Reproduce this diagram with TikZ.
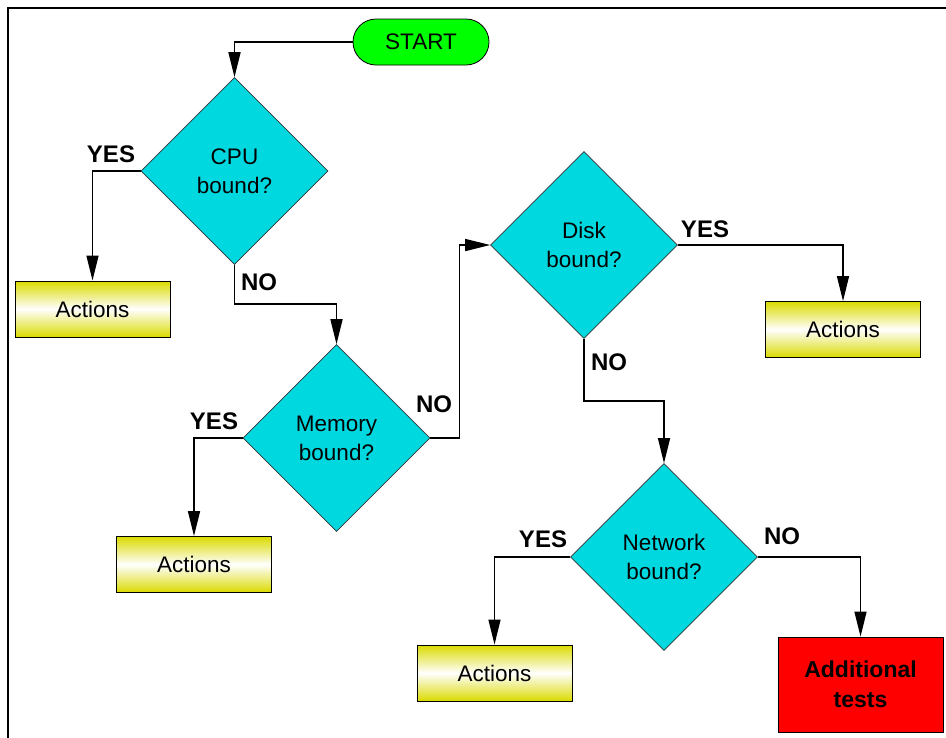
\documentclass[tikz,border=0pt]{standalone}
\usepackage{fontspec}
\setmainfont{Liberation Sans}
\usetikzlibrary{shapes.geometric,arrows.meta}
\definecolor{decision}{RGB}{0,216,224}
\definecolor{actyellow}{RGB}{218,218,0}
\begin{document}
\begin{tikzpicture}[x=1pt,y=-1pt,
  font=\fontsize{22.5}{29}\selectfont,
  decisionbox/.style={diamond,draw=black!80,line width=0.7pt,fill=decision,
    minimum width=187pt,minimum height=187pt,inner sep=0pt,align=center},
  actionbox/.style={rectangle,draw=black,line width=0.8pt,
    top color=actyellow,bottom color=actyellow,middle color=white,
    minimum width=155pt,minimum height=56pt,inner sep=0pt},
  flow/.style={line width=1.5pt,-{Triangle[length=25pt,width=12pt]}},
  answer/.style={font=\fontsize{24}{29}\selectfont\bfseries}]
\useasboundingbox (0,0) rectangle (946,737);
% frame around the chart
\draw[line width=1.8pt] (960,8) -- (8,8) -- (8,760);

% nodes
\node[draw=black,line width=0.8pt,fill=green,rounded corners=23pt,
  minimum width=136pt,minimum height=46pt,inner sep=0pt] (start) at (421,42) {START};
\node[decisionbox] (cpu)  at (234.5,171) {CPU\\bound?};
\node[decisionbox] (mem)  at (336.5,438) {Memory\\bound?};
\node[decisionbox] (disk) at (584,245)   {Disk\\bound?};
\node[decisionbox] (net)  at (664,557)   {Network\\bound?};
\node[actionbox] (act1) at (92.5,309)  {Actions};
\node[actionbox] (act2) at (194,564.5) {Actions};
\node[actionbox] (act3) at (843,329.5) {Actions};
\node[actionbox] (act4) at (494.5,673) {Actions};
\node[rectangle,draw=black,line width=0.8pt,fill=red,minimum width=165pt,
  minimum height=95pt,inner sep=0pt,align=center,
  font=\fontsize{23}{30}\selectfont\bfseries] (more) at (860.5,684.5) {Additional\\tests};

% connectors
\draw[flow] (start.west) -| (cpu.north);
\draw[flow] (cpu.west) -| (act1.north);
\draw[flow] (cpu.south) -- ++(0,39) -| (mem.north);
\draw[flow] (mem.west) -| (act2.north);
\draw[flow] (mem.east) -- ++(29,0) |- (disk.west);
\draw[flow] (disk.east) -| (act3.north);
\draw[flow] (disk.south) -- ++(0,62) -| (net.north);
\draw[flow] (net.west) -| (act4.north);
\draw[flow] (net.east) -| (more.north);

% branch labels
\node[answer] (l1) at (111,154) {YES};
\node[answer] (l2) at (259,282) {NO};
\node[answer] (l3) at (214,421) {YES};
\node[answer] (l4) at (434,404) {NO};
\node[answer] (l5) at (705,229) {YES};
\node[answer] (l6) at (609,362) {NO};
\node[answer] (l7) at (543,539) {YES};
\node[answer] (l8) at (782,536) {NO};
\end{tikzpicture}
\end{document}
